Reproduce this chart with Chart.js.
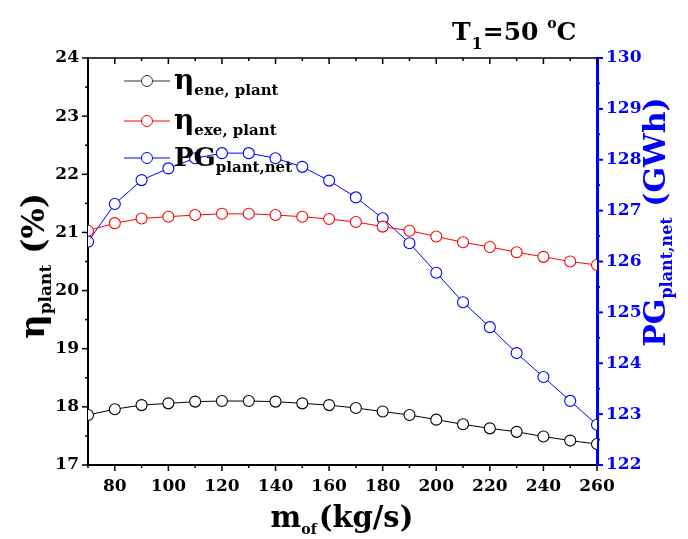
<!DOCTYPE html>
<html>
<head>
<meta charset="utf-8">
<script src="https://cdn.jsdelivr.net/npm/chart.js@4/dist/chart.umd.min.js"></script>
<style>
  html, body { margin: 0; padding: 0; background: #fff; }
  #wrap { width: 688px; height: 539px; }
</style>
</head>
<body>
<div id="wrap"><canvas id="grafico" width="688" height="539"></canvas></div>
<script>
// Datos
const massFlow = [70, 80, 90, 100, 110, 120, 130, 140, 150, 160, 170, 180, 190, 200, 210, 220, 230, 240, 250, 260];
const etaEne = [17.86, 17.96, 18.03, 18.06, 18.09, 18.10, 18.10, 18.09, 18.06, 18.03, 17.98, 17.92, 17.86, 17.78, 17.70, 17.63, 17.57, 17.49, 17.42, 17.36];
const etaExe = [21.03, 21.16, 21.24, 21.27, 21.30, 21.32, 21.32, 21.30, 21.27, 21.23, 21.18, 21.10, 21.03, 20.93, 20.83, 20.75, 20.66, 20.58, 20.50, 20.44];
const pgNet = [126.39, 127.13, 127.60, 127.83, 128.03, 128.13, 128.13, 128.03, 127.86, 127.59, 127.26, 126.85, 126.36, 125.78, 125.20, 124.71, 124.20, 123.73, 123.26, 122.79];
const xTickLabels = [80, 100, 120, 140, 160, 180, 200, 220, 240, 260];

const FONT = "'DejaVu Serif', serif";
const BLUE = '#0000ff';

function puntos(ys) {
    return massFlow.map((x, i) => ({ x: x, y: ys[i] }));
}

// dibuja texto con sub/superíndices
function textoRico(ctx, partes, x, y, color, align) {
    let total = 0;
    partes.forEach(p => {
        ctx.font = 'bold ' + p.size + 'px ' + FONT;
        total += ctx.measureText(p.t).width + (p.gap || 0);
    });
    let cx = align === 'center' ? x - total / 2 : x;
    ctx.fillStyle = color;
    ctx.textBaseline = 'alphabetic';
    ctx.textAlign = 'left';
    partes.forEach(p => {
        ctx.font = 'bold ' + p.size + 'px ' + FONT;
        ctx.fillText(p.t, cx, y + (p.dy || 0));
        cx += ctx.measureText(p.t).width + (p.gap || 0);
    });
}

const decoracion = {
    id: 'decoracion',
    afterDraw(chart) {
        const ctx = chart.ctx;
        const ca = chart.chartArea;
        const sx = chart.scales.x, sy = chart.scales.y, sy1 = chart.scales.y1;
        ctx.save();

        // linea superior
        ctx.strokeStyle = '#000';
        ctx.lineWidth = 1.5;
        ctx.beginPath();
        ctx.moveTo(ca.left, ca.top);
        ctx.lineTo(ca.right, ca.top);
        ctx.stroke();

        // marcas del eje x (abajo hacia fuera, arriba hacia dentro)
        ctx.lineWidth = 1.5;
        for (let v = 70; v <= 260; v += 10) {
            const px = sx.getPixelForValue(v);
            const len = v % 20 === 0 ? 6 : 3;
            ctx.beginPath();
            ctx.moveTo(px, ca.bottom);
            ctx.lineTo(px, ca.bottom + len);
            ctx.moveTo(px, ca.top);
            ctx.lineTo(px, ca.top + len);
            ctx.stroke();
        }
        // marcas eje izquierdo
        for (let v = 17; v <= 24; v += 0.5) {
            const py = sy.getPixelForValue(v);
            const len = Number.isInteger(v) ? 6 : 3;
            ctx.beginPath();
            ctx.moveTo(ca.left, py);
            ctx.lineTo(ca.left - len, py);
            ctx.stroke();
        }
        // marcas eje derecho
        ctx.strokeStyle = BLUE;
        ctx.lineWidth = 2;
        for (let v = 122; v <= 130; v += 0.5) {
            const py = sy1.getPixelForValue(v);
            const len = Number.isInteger(v) ? 6 : 3;
            ctx.beginPath();
            ctx.moveTo(ca.right, py);
            ctx.lineTo(ca.right + len, py);
            ctx.stroke();
        }

        // leyenda
        const leyenda = [
            { color: '#333', y: 81, partes: [{ t: 'η', size: 28 }, { t: 'ene, plant', size: 15, dy: 6 }] },
            { color: '#ff0000', y: 121, partes: [{ t: 'η', size: 28 }, { t: 'exe, plant', size: 15, dy: 6 }] },
            { color: BLUE, y: 158, partes: [{ t: 'PG', size: 26 }, { t: 'plant,net', size: 15, dy: 6 }] }
        ];
        leyenda.forEach(item => {
            ctx.strokeStyle = item.color;
            ctx.lineWidth = 1;
            ctx.beginPath();
            ctx.moveTo(124, item.y);
            ctx.lineTo(170, item.y);
            ctx.stroke();
            ctx.fillStyle = '#fff';
            ctx.beginPath();
            ctx.arc(147, item.y, 5.5, 0, Math.PI * 2);
            ctx.fill();
            ctx.stroke();
            textoRico(ctx, item.partes, 174, item.y + 8, '#000', 'left');
        });

        // T1 = 50 °C
        textoRico(ctx, [
            { t: 'T', size: 25, gap: 1 },
            { t: '1', size: 16, dy: 9 },
            { t: '=50 ', size: 25 },
            { t: 'o', size: 14, dy: -12 },
            { t: 'C', size: 25 }
        ], 452, 40, '#000', 'left');

        // título eje x
        textoRico(ctx, [
            { t: 'm', size: 29 },
            { t: 'of', size: 14, dy: 7, gap: 2 },
            { t: '(kg/s)', size: 29 }
        ], 342, 527, '#000', 'center');

        // título eje izquierdo
        ctx.save();
        ctx.translate(44, 266);
        ctx.rotate(-Math.PI / 2);
        textoRico(ctx, [
            { t: 'η', size: 34 },
            { t: 'plant', size: 17, dy: 7 },
            { t: ' (%)', size: 32 }
        ], 0, 0, '#000', 'center');
        ctx.restore();

        // título eje derecho
        ctx.save();
        ctx.translate(665, 222);
        ctx.rotate(-Math.PI / 2);
        textoRico(ctx, [
            { t: 'PG', size: 30 },
            { t: 'plant,net', size: 16, dy: 7 },
            { t: ' (GWh)', size: 30 }
        ], 0, 0, BLUE, 'center');
        ctx.restore();

        ctx.restore();
    }
};

function serie(label, ys, color, eje) {
    return {
        label: label,
        data: puntos(ys),
        yAxisID: eje,
        borderColor: color,
        borderWidth: 1,
        pointStyle: 'circle',
        pointRadius: 5.5,
        pointBorderWidth: 1.1,
        pointBorderColor: color,
        pointBackgroundColor: '#fff',
        tension: 0
    };
}

new Chart(document.getElementById('grafico'), {
    type: 'line',
    data: {
        datasets: [
            serie('ene', etaEne, '#000', 'y'),
            serie('exe', etaExe, '#ff0000', 'y'),
            serie('pg', pgNet, BLUE, 'y1')
        ]
    },
    options: {
        responsive: false,
        animation: false,
        devicePixelRatio: 1,
        layout: { padding: { top: 58, left: 0, right: 0, bottom: 0 } },
        plugins: { legend: { display: false }, tooltip: { enabled: false } },
        scales: {
            x: {
                type: 'linear',
                min: 70,
                max: 260,
                afterFit(scale) { scale.height = 74; },
                afterBuildTicks(scale) { scale.ticks = xTickLabels.map(v => ({ value: v })); },
                grid: { display: false, drawTicks: false },
                border: { display: true, color: '#000', width: 2 },
                ticks: { padding: 11, color: '#000', font: { family: FONT, size: 17, weight: 'bold' } }
            },
            y: {
                position: 'left',
                min: 17,
                max: 24,
                afterFit(scale) { scale.width = 88; },
                grid: { display: false, drawTicks: false },
                border: { display: true, color: '#000', width: 2 },
                ticks: { stepSize: 1, padding: 9, color: '#000', font: { family: FONT, size: 17, weight: 'bold' } }
            },
            y1: {
                position: 'right',
                min: 122,
                max: 130,
                afterFit(scale) { scale.width = 91; },
                grid: { display: false, drawTicks: false },
                border: { display: true, color: BLUE, width: 3 },
                ticks: { stepSize: 1, padding: 9, color: BLUE, font: { family: FONT, size: 17, weight: 'bold' } }
            }
        }
    },
    plugins: [decoracion]
});
</script>
</body>
</html>
